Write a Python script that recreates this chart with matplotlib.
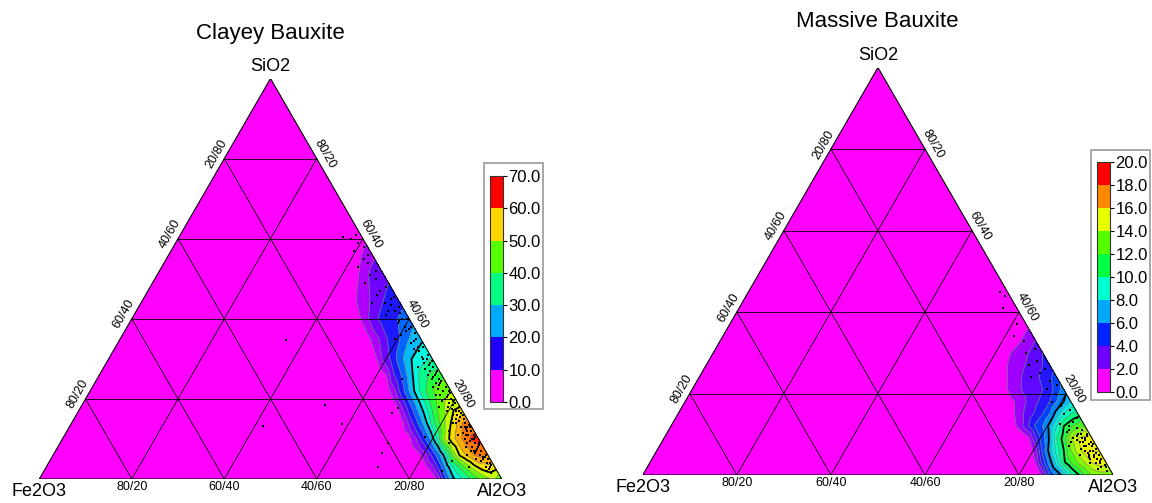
import numpy as np
import matplotlib
matplotlib.use('Agg')
import matplotlib.pyplot as plt
import matplotlib.tri as mtri
from matplotlib.colors import LinearSegmentedColormap, ListedColormap, BoundaryNorm
from matplotlib.cm import ScalarMappable
from matplotlib.patches import Polygon, Rectangle

plt.rcParams['font.family'] = ['Liberation Sans', 'DejaVu Sans']

# ---------------- data (percent) ----------------
# density table: rows = SiO2 %, columns = Fe2O3 % (distance from the Al2O3-SiO2 edge)
fe2o3_cols = [0, 1.5, 3, 4.5, 6, 7.5, 9, 10.5, 12, 13.5, 15, 17]

clayey_sio2_rows = [0, 3, 6, 10, 14, 18, 22, 26, 30, 35, 40, 45, 50, 55, 60]
clayey_density = [
    [40, 45, 44, 40, 36, 32, 28, 24, 15, 5, 1, 0],
    [52, 54, 52, 48, 42, 36, 30, 22, 12, 5, 2, 0],
    [60, 62, 60, 56, 51, 42, 29, 19, 11, 5, 2, 0],
    [67, 66, 62, 57, 52, 44, 30, 20, 12, 6, 2, 0],
    [62, 60, 54, 48, 42, 35, 26, 18, 11, 5, 1, 0],
    [50, 49, 46, 42, 36, 29, 22, 15, 8, 3, 0, 0],
    [45, 44, 42, 38, 33, 27, 20, 13, 6, 2, 0, 0],
    [38, 37, 35, 32, 26, 20, 14, 9, 3, 1, 0, 0],
    [30, 29, 27, 25, 21, 16, 10.5, 7, 3, 1, 0, 0],
    [24, 22, 19, 15, 12, 9.5, 6, 3.5, 1.5, 0, 0, 0],
    [17, 16, 14.5, 13, 11, 9, 5.5, 3, 1, 0, 0, 0],
    [13, 12, 10, 8, 6, 4.5, 3, 1.5, 0, 0, 0, 0],
    [9, 8, 7, 5, 3, 1, 0, 0, 0, 0, 0, 0],
    [6, 5, 3, 1, 0, 0, 0, 0, 0, 0, 0, 0],
    [2, 1, 0, 0, 0, 0, 0, 0, 0, 0, 0, 0],
]

massive_sio2_rows = [0, 3, 6, 9, 12, 15, 18, 21, 24, 27, 30, 33, 36]
massive_density = [
    [12, 12.5, 12.5, 12, 11, 9.8, 8.5, 6.5, 5.2, 4, 1.2, 0],
    [14.5, 14.5, 14, 13, 12, 11, 9.7, 7.5, 5.5, 3.5, 1, 0],
    [15, 15, 14.5, 13.5, 12, 10, 8.5, 6.5, 4.3, 1.5, 0.3, 0],
    [14.5, 14.5, 14, 13, 10.5, 9, 6.2, 4.5, 2.8, 0.8, 0, 0],
    [12, 11.5, 10.8, 10, 8, 6.3, 5, 4.2, 3, 1.8, 0.7, 0],
    [9.5, 9, 8, 6.5, 5, 4, 3.2, 2.5, 1.8, 1, 0.3, 0],
    [7, 6, 5, 4, 3.3, 2.8, 2.2, 1.6, 1, 0.5, 0, 0],
    [5.5, 4.5, 3.5, 3, 2.7, 2.4, 2, 1.6, 1, 0.3, 0, 0],
    [4.5, 3.8, 3.2, 2.8, 2.4, 2, 1.5, 1, 0.5, 0, 0, 0],
    [3.5, 3, 2.6, 2.2, 1.8, 1.4, 1, 0.5, 0, 0, 0, 0],
    [3, 2.5, 2, 1.6, 1.2, 0.8, 0.3, 0, 0, 0, 0, 0],
    [2, 1.5, 1, 0.5, 0, 0, 0, 0, 0, 0, 0, 0],
    [1, 0.6, 0.2, 0, 0, 0, 0, 0, 0, 0, 0, 0],
]

# sample points (SiO2 %, Fe2O3 %)
clayey_pts_sio2 = [61, 60, 59, 58, 57, 56, 55, 54, 53, 52, 51, 50, 49, 48, 47, 46, 45, 44, 43, 42,
                   41, 40, 39, 38, 37, 36, 35, 34, 33, 32, 31, 30, 29, 28, 27, 26, 25, 24, 23, 22,
                   21, 20, 19, 18, 17, 16, 15, 14, 13, 12, 11, 10, 9, 8, 7, 6, 5, 4, 3, 2, 1.5,
                   24, 22.5, 21.5, 20.5, 19.5, 18.5, 17.5, 16.5, 15.5, 14.5, 13.5, 12.5, 11.5, 10.5,
                   9.5, 8.5, 7.5, 6.5, 5.5, 4.5, 3.5, 2.5, 12, 9, 6, 3, 18, 28, 35, 44, 33, 31, 29,
                   27, 26, 38, 40, 42, 16, 14, 11, 8, 5, 7, 10, 13, 20, 23,
                   45.5, 43.5, 41.5, 39.5, 37.5, 36.5, 34.5, 32.5, 30.5, 29.5, 28.5, 27.5, 26.5,
                   25.5, 24.5, 23.5, 22, 21, 19, 17, 15, 13, 11, 9, 7, 5, 3, 2,
                   18, 16, 14, 12, 10, 8, 6, 4, 15, 11, 7, 19.5, 13, 9, 5.5, 21, 17, 25, 30, 32,
                   34.7, 18.5, 13.7, 13.2, 8.9, 6.5, 17.7, 16.4, 3.1, 10.6, 2.0, 4.5, 60.5, 25]
clayey_pts_fe2o3 = [1.0, 2.5, 1.5, 0.8, 3.5, 1.0, 2.2, 2.0, 4.5, 1.2, 3.0, 2.2, 5.0, 1.0, 2.8, 4.0, 1.5, 3.2, 0.8, 2.0,
                    4.5, 1.5, 3.0, 0.7, 2.2, 3.8, 1.0, 2.6, 0.6, 1.8, 3.5, 1.2, 2.4, 0.8, 1.9, 3.0, 1.0, 2.2, 0.6, 1.6,
                    2.8, 0.9, 1.8, 2.6, 0.8, 1.6, 3.2, 1.0, 2.2, 0.7, 1.8, 3.0, 1.2, 2.4, 0.9, 1.8, 3.0, 1.2, 2.0, 0.8, 1.5,
                    1.4, 2.5, 0.5, 1.5, 3.2, 1.2, 2.0, 0.5, 1.2, 2.0, 0.4, 1.5, 2.6, 0.6,
                    2.0, 0.6, 1.6, 2.6, 0.8, 2.2, 0.6, 1.6, 5.5, 6.8, 4.5, 5.5, 4.5, 4.2, 5.5, 6.0, 1.5, 0.5, 1.0,
                    0.5, 1.5, 2.0, 0.5, 3.5, 2.6, 3.6, 4.0, 3.8, 1.6, 3.2, 1.4, 0.3, 2.2, 3.4,
                    0.6, 2.2, 1.2, 2.4, 1.2, 0.4, 1.8, 2.8, 2.0, 0.4, 1.4, 2.8, 0.9,
                    2.0, 0.8, 1.8, 0.4, 1.2, 0.5, 1.3, 0.6, 1.4, 0.4, 0.5, 2.0, 0.4, 1.0, 2.2,
                    0.3, 0.4, 2.8, 1.4, 0.9, 1.1, 0.4, 0.5, 2.4, 2.2, 2.4, 0.7, 1.0, 3.0, 1.3, 3.8, 3.4, 2.6, 2.0, 2.6,
                    29.4, 29.0, 27.7, 45.1, 20.2, 22.7, 13.6, 15.6, 25.1, 11.3, 12.0, 8.5, 4.0, 9.0]

massive_pts_sio2 = [45, 44, 41, 37, 34, 33, 31, 30, 28, 27, 26, 25, 24, 23, 22, 21, 20, 19, 18, 17,
                    16, 15, 14, 13, 12, 11, 10, 9.5, 9, 8.5, 8, 7.5, 7, 6.5, 6, 5.5, 5, 4.5, 4, 3.5,
                    3, 2.5, 2, 1.5, 1, 10.5, 8, 5, 12.5, 7, 11.5, 10, 9, 8, 7, 6, 5, 4, 3, 6.5, 9.5, 11,
                    10, 9, 8, 7, 6, 5, 4, 3, 2, 8.5, 7.5, 5.5, 4.5]
massive_pts_fe2o3 = [1.5, 1.1, 3.0, 1.9, 4.0, 2.5, 1.2, 3.5, 2.2, 4.5, 1.5, 3.0, 5.5, 2.0, 1.0, 3.5, 2.2, 1.0, 4.0, 2.5,
                     1.2, 3.0, 0.8, 2.0, 3.5, 1.2, 2.5, 0.8, 4.0, 1.8, 3.0, 0.6, 2.2, 3.5, 1.2, 2.5, 0.6, 1.8, 3.0, 1.0,
                     2.2, 0.5, 1.5, 2.5, 0.8, 4.5, 5.0, 4.5, 5.0, 6.0, 2.0, 0.5, 1.5, 2.5, 1.0, 3.0, 1.5, 0.5, 3.5, 0.5, 3.0, 3.8,
                     1.8, 2.2, 0.8, 2.8, 2.0, 2.6, 1.4, 1.2, 0.6, 3.4, 1.4, 1.0, 2.8]

clayey_levels = [3, 6, 10, 15, 20, 25, 30, 35, 40, 45, 50, 55, 60, 65, 70]
clayey_bold = [25, 50]
massive_levels = [1, 2, 3, 4, 5, 6, 7, 8, 9, 10, 11, 12, 13, 14, 15, 16, 18, 20]
massive_bold = [6, 10]

clayey_cbar_ticks = [0, 10, 20, 30, 40, 50, 60, 70]
clayey_cbar_colors = ['#FF00FF', '#2000FF', '#00AAFF', '#00FF80', '#55FF00', '#FFD700', '#FF0000']
massive_cbar_ticks = [0, 2, 4, 6, 8, 10, 12, 14, 16, 18, 20]
massive_cbar_colors = ['#FF00FF', '#7000FF', '#0022FF', '#00AAFF', '#00FFCC', '#00FF40',
                       '#55FF00', '#E5FF00', '#FF8800', '#FF0000']

grid_ticks = [20, 40, 60, 80]
bottom_labels = ['80/20', '60/40', '40/60', '20/80']   # Fe2O3/Al2O3 at Al2O3 = 20..80
left_labels = ['80/20', '60/40', '40/60', '20/80']     # Fe2O3/SiO2 at SiO2 = 20..80
right_labels = ['20/80', '40/60', '60/40', '80/20']    # SiO2/Al2O3 at SiO2 = 20..80

rainbow = LinearSegmentedColormap.from_list('rb', [
    '#FF00FF', '#8000FF', '#0020FF', '#00AAFF', '#00FFDD', '#00FF60',
    '#55FF00', '#E5FF00', '#FFC000', '#FF7000', '#FF0000'])

W, H = 1152, 503
H3 = np.sqrt(3) / 2
fig = plt.figure(figsize=(W / 100, H / 100), dpi=100)


def px_rect(x0, y0, x1, y1):
    return [x0 / W, 1 - y1 / H, (x1 - x0) / W, (y1 - y0) / H]


def to_xy(sio2, fe2o3):
    s = np.asarray(sio2, float) / 100
    f = np.asarray(fe2o3, float) / 100
    return 1 - f - s / 2, s * H3


def density_field(rows, table):
    ss, ff, zz = [], [], []
    for s, vals in zip(rows, table):
        for f, v in zip(fe2o3_cols, vals):
            ss.append(s); ff.append(f); zz.append(v)
        for f in (20, 25):
            ss.append(s); ff.append(f); zz.append(0)
    for f in fe2o3_cols + [20, 25]:
        ss.append(rows[-1] + 5); ff.append(f); zz.append(0)
    x, y = to_xy(ss, ff)
    return mtri.Triangulation(x, y), np.array(zz, float)


def pts(off_px):
    return off_px[0] * 0.72, off_px[1] * 0.72


def draw_ternary(left, base, width, rows, table, levels, bold, vmax, p_s, p_f):
    ax = fig.add_axes(px_rect(left, base - width * H3, left + width, base))
    ax.set_xlim(0, 1)
    ax.set_ylim(0, H3)
    ax.axis('off')

    ax.add_patch(Polygon([(0, 0), (1, 0), (0.5, H3)], closed=True, fc='#FF00FF', ec='none'))
    t, z = density_field(rows, table)
    mids = [(a + b) / 2 / vmax for a, b in zip(levels[:-1], levels[1:])]
    ax.tricontourf(t, z, levels=levels, colors=[rainbow(m) for m in mids])
    ax.tricontour(t, z, levels=levels, colors='#808080', linewidths=0.5)
    ax.tricontour(t, z, levels=bold, colors='black', linewidths=1.3)

    # grid
    for g in grid_ticks:
        k = g / 100
        ax.plot([k / 2, 1 - k / 2], [k * H3, k * H3], color='black', lw=0.6)
        ax.plot([1 - k, (1 - k) / 2], [0, (1 - k) * H3], color='black', lw=0.6)
        ax.plot([k, k + (1 - k) / 2], [0, (1 - k) * H3], color='black', lw=0.6)
    ax.add_patch(Polygon([(0, 0), (1, 0), (0.5, H3)], closed=True, fc='none', ec='black', lw=0.8))

    x, y = to_xy(p_s, p_f)
    ax.plot(x, y, 's', color='black', ms=1.7, mew=0)

    # axis labels
    for g, lab in zip(grid_ticks, bottom_labels):
        ax.annotate(lab, (g / 100, 0), xytext=pts((0, -8)), textcoords='offset points',
                    ha='center', va='center', fontsize=9)
    for g, lab in zip(grid_ticks, left_labels):
        k = g / 100
        ax.annotate(lab, (k / 2, k * H3), xytext=pts((-0.866 * 9, 0.5 * 9)), textcoords='offset points',
                    ha='center', va='center', fontsize=9, rotation=60)
    for g, lab in zip(grid_ticks, right_labels):
        k = g / 100
        ax.annotate(lab, (1 - k / 2, k * H3), xytext=pts((0.866 * 9, 0.5 * 9)), textcoords='offset points',
                    ha='center', va='center', fontsize=9, rotation=-60)
    ax.annotate('Fe2O3', (0, 0), xytext=pts((0, -13)), textcoords='offset points',
                ha='center', va='center', fontsize=13)
    ax.annotate('Al2O3', (1, 0), xytext=pts((0, -13)), textcoords='offset points',
                ha='center', va='center', fontsize=13)
    ax.annotate('SiO2', (0.5, H3), xytext=pts((0, 12)), textcoords='offset points',
                ha='center', va='center', fontsize=13)
    return ax


def draw_cbar(box, bar, ticks, colors):
    x0, y0, x1, y1 = box
    fig.add_artist(Rectangle((x0 / W, 1 - y1 / H), (x1 - x0) / W, (y1 - y0) / H,
                             transform=fig.transFigure, fill=False, ec='#999999', lw=1.2))
    cax = fig.add_axes(px_rect(*bar))
    sm = ScalarMappable(norm=BoundaryNorm(ticks, len(colors)), cmap=ListedColormap(colors))
    cb = fig.colorbar(sm, cax=cax, ticks=ticks)
    cb.ax.set_yticklabels(['%.1f' % t for t in ticks])
    cb.ax.tick_params(labelsize=12, length=3, width=0.8, pad=1)
    cb.outline.set_linewidth(0.8)
    cb.outline.set_edgecolor('#333333')


draw_ternary(39.3, 479, 462.4, clayey_sio2_rows, clayey_density, clayey_levels, clayey_bold, 70,
             clayey_pts_sio2, clayey_pts_fe2o3)
draw_ternary(642.7, 475, 470.5, massive_sio2_rows, massive_density, massive_levels, massive_bold, 20,
             massive_pts_sio2, massive_pts_fe2o3)

fig.text(270.5 / W, 1 - 33 / H, 'Clayey Bauxite', ha='center', va='center', fontsize=16)
fig.text(877.5 / W, 1 - 21.5 / H, 'Massive Bauxite', ha='center', va='center', fontsize=16)

draw_cbar((484, 163, 543, 409), (490, 176, 503, 402), clayey_cbar_ticks, clayey_cbar_colors)
draw_cbar((1091, 150, 1150, 400), (1097, 162, 1110, 392), massive_cbar_ticks, massive_cbar_colors)

fig.savefig('out.png', dpi=100)
